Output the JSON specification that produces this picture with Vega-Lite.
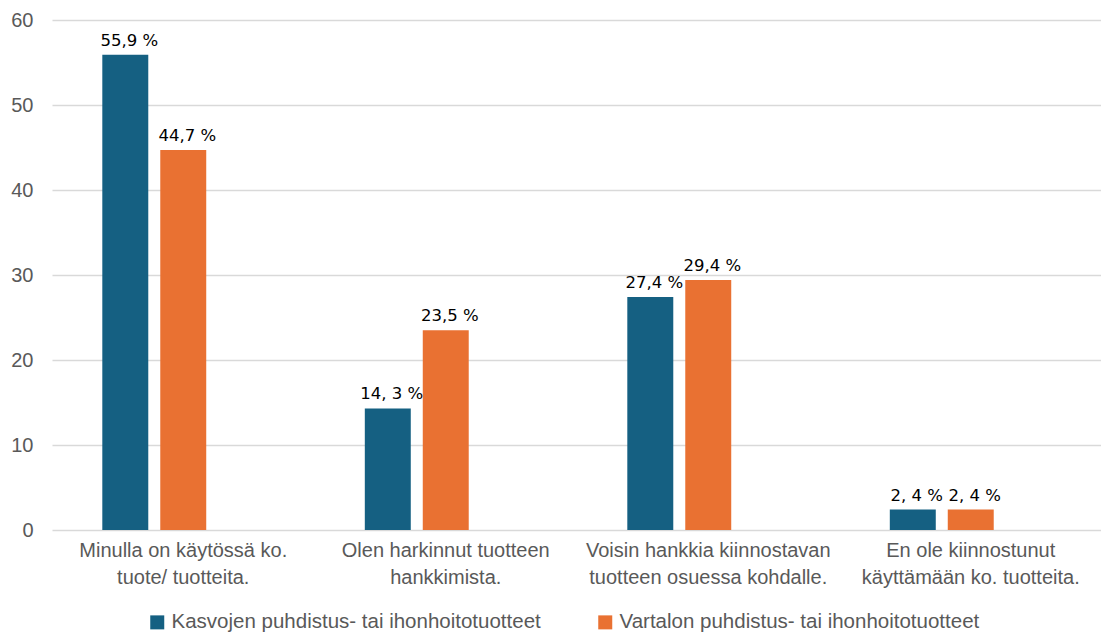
{
  "$schema": "https://vega.github.io/schema/vega-lite/v6.json",
  "width": 1050,
  "height": 510,
  "autosize": {"type": "none"},
  "padding": {"left": 52, "top": 20, "right": 0, "bottom": 105},
  "config": {"view": {"stroke": null}, "font": "Liberation Sans"},
  "data": {
    "values": [
      {"cat": "Minulla on käytössä ko.|tuote/ tuotteita.", "series": "Kasvojen puhdistus- tai ihonhoitotuotteet", "value": 55.9, "label": "55,9 %"},
      {"cat": "Minulla on käytössä ko.|tuote/ tuotteita.", "series": "Vartalon puhdistus- tai ihonhoitotuotteet", "value": 44.7, "label": "44,7 %"},
      {"cat": "Olen harkinnut tuotteen|hankkimista.", "series": "Kasvojen puhdistus- tai ihonhoitotuotteet", "value": 14.3, "label": "14, 3 %"},
      {"cat": "Olen harkinnut tuotteen|hankkimista.", "series": "Vartalon puhdistus- tai ihonhoitotuotteet", "value": 23.5, "label": "23,5 %"},
      {"cat": "Voisin hankkia kiinnostavan|tuotteen osuessa kohdalle.", "series": "Kasvojen puhdistus- tai ihonhoitotuotteet", "value": 27.4, "label": "27,4 %"},
      {"cat": "Voisin hankkia kiinnostavan|tuotteen osuessa kohdalle.", "series": "Vartalon puhdistus- tai ihonhoitotuotteet", "value": 29.4, "label": "29,4 %"},
      {"cat": "En ole kiinnostunut|käyttämään ko. tuotteita.", "series": "Kasvojen puhdistus- tai ihonhoitotuotteet", "value": 2.4, "label": "2, 4 %"},
      {"cat": "En ole kiinnostunut|käyttämään ko. tuotteita.", "series": "Vartalon puhdistus- tai ihonhoitotuotteet", "value": 2.4, "label": "2, 4 %"}
    ]
  },
  "encoding": {
    "x": {
      "field": "cat", "type": "nominal", "sort": null,
      "scale": {"paddingInner": 0, "paddingOuter": 0},
      "axis": {"title": null, "labelAngle": 0, "labelExpr": "split(datum.value, '|')", "labelFontSize": 20, "labelLimit": 0, "labelColor": "#595959", "labelPadding": 10, "ticks": false, "domain": false, "labelLineHeight": 27, "labelBaseline": "top"}
    },
    "xOffset": {
      "field": "series", "type": "nominal", "sort": null,
      "scale": {"domain": ["Kasvojen puhdistus- tai ihonhoitotuotteet", "Vartalon puhdistus- tai ihonhoitotuotteet", "_"], "paddingInner": 0.2069, "paddingOuter": 0.868}
    },
    "y": {
      "field": "value", "type": "quantitative",
      "scale": {"domain": [0, 60]},
      "axis": {"title": null, "values": [0, 10, 20, 30, 40, 50, 60], "grid": true, "gridColor": "#d9d9d9", "gridWidth": 1.3, "domain": false, "ticks": false, "labelFontSize": 20, "labelColor": "#595959", "labelPadding": 19}
    }
  },
  "layer": [
    {
      "mark": {"type": "bar"},
      "encoding": {
        "color": {
          "field": "series", "type": "nominal",
          "scale": {"domain": ["Kasvojen puhdistus- tai ihonhoitotuotteet", "Vartalon puhdistus- tai ihonhoitotuotteet"], "range": ["#156082", "#E97132"]},
          "legend": {"title": null, "orient": "none", "direction": "horizontal", "legendX": 95, "legendY": 592, "symbolType": "square", "symbolSize": 196, "symbolStrokeWidth": 0, "symbolOpacity": 1, "labelFontSize": 20.5, "labelLimit": 0, "labelColor": "#595959", "labelOffset": 4, "columnPadding": 54, "padding": 0}
        }
      }
    },
    {
      "mark": {"type": "text", "baseline": "bottom", "dy": -6, "dx": 4, "font": "DejaVu Sans", "fontSize": 16.5, "color": "#000000"},
      "encoding": {"text": {"field": "label"}}
    }
  ]
}
